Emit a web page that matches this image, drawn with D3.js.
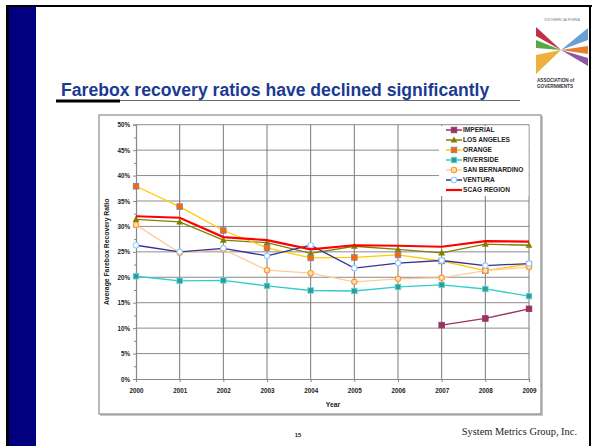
<!DOCTYPE html>
<html>
<head>
<meta charset="utf-8">
<script src="https://cdn.jsdelivr.net/npm/d3@7"></script>
<style>
  body { margin: 0; background: #fff; }
  svg { display: block; font-family: Arial, "Liberation Sans", sans-serif; }
</style>
</head>
<body>
<svg id="slide" width="592" height="446"></svg>
<script>
(() => {
    // Values (percent)
    const years = [2000, 2001, 2002, 2003, 2004, 2005, 2006, 2007, 2008, 2009];
    const imperial = [null, null, null, null, null, null, null, 10.6, 11.9, 13.8];
    const losAngeles = [31.4, 30.9, 27.3, 26.8, 24.7, 26.1, 25.5, 24.8, 26.5, 26.3];
    const orange = [37.9, 33.9, 29.2, 25.8, 23.8, 23.9, 24.4, 23.2, 21.3, 22.6];
    const riverside = [20.2, 19.3, 19.4, 18.3, 17.4, 17.3, 18.1, 18.5, 17.7, 16.3];
    const sanBernardino = [30.3, 24.8, 25.5, 21.4, 20.8, 19.1, 19.7, 19.9, 21.3, 22.0];
    const ventura = [26.3, 25.0, 25.7, 24.2, 26.3, 21.8, 22.8, 23.3, 22.3, 22.7];
    const scagRegion = [32.0, 31.7, 27.9, 27.3, 25.5, 26.3, 26.2, 26.0, 27.1, 27.0];
    const yTicks = [0, 5, 10, 15, 20, 25, 30, 35, 40, 45, 50];

    const series = [
        { name: "IMPERIAL", values: imperial, line: "#993366", marker: "square", fill: "#993366", stroke: "#993366" },
        { name: "LOS ANGELES", values: losAngeles, line: "#808000", marker: "triangle", fill: "#808000", stroke: "#808000" },
        { name: "ORANGE", values: orange, line: "#FFCC00", marker: "square", fill: "#FF6600", stroke: "#8080b0" },
        { name: "RIVERSIDE", values: riverside, line: "#33CCCC", marker: "square", fill: "#339999", stroke: "#66dddd" },
        { name: "SAN BERNARDINO", values: sanBernardino, line: "#FFCC99", marker: "circle", fill: "#FFE0B0", stroke: "#FF9933" },
        { name: "VENTURA", values: ventura, line: "#333399", marker: "circle", fill: "#ffffff", stroke: "#99CCFF" },
        { name: "SCAG REGION", values: scagRegion, line: "#FF0000", marker: null, width: 2.2 }
    ];

    const svg = d3.select("#slide");

    // Slide frame
    svg.append("rect").attr("x", 6).attr("y", 5).attr("width", 586).attr("height", 2).attr("fill", "#000");
    svg.append("rect").attr("x", 6).attr("y", 5).attr("width", 3).attr("height", 441).attr("fill", "#000");
    svg.append("rect").attr("x", 9).attr("y", 7).attr("width", 27).attr("height", 439).attr("fill", "#000080");
    svg.append("rect").attr("x", 589).attr("y", 5).attr("width", 2).attr("height", 441).attr("fill", "#000");

    // Title and rule
    svg.append("text").attr("x", 61).attr("y", 96)
        .attr("font-size", 17.6).attr("font-weight", "bold").attr("fill", "#1b3a93")
        .text("Farebox recovery ratios have declined significantly");
    svg.append("line").attr("x1", 56).attr("x2", 520).attr("y1", 100.5).attr("y2", 100.5)
        .attr("stroke", "#444").attr("stroke-width", 0.8);
    svg.append("rect").attr("x", 56).attr("y", 99.5).attr("width", 64).attr("height", 3).attr("fill", "#000");

    // Logo
    const logo = svg.append("g");
    logo.append("text").attr("x", 562).attr("y", 21).attr("text-anchor", "middle")
        .attr("font-size", 3).attr("fill", "#777").text("SOUTHERN CALIFORNIA");
    const cx = 561, cy = 50;
    const wedges = [
        { pts: [[536, 27], [536, 36], [cx, cy]], c: "#c0304a" },
        { pts: [[536, 40], [536, 48], [cx, cy]], c: "#5aa845" },
        { pts: [[536, 55], [536, 74], [cx, cy]], c: "#f0b040" },
        { pts: [[588, 28], [588, 40], [cx, cy]], c: "#6a9fd4" },
        { pts: [[588, 46], [588, 54], [cx, cy]], c: "#e87d2a" },
        { pts: [[588, 58], [588, 66], [cx, cy]], c: "#8a5aa8" }
    ];
    logo.selectAll("polygon").data(wedges).join("polygon")
        .attr("points", d => d.pts.map(p => p.join(",")).join(" "))
        .attr("fill", d => d.c);
    logo.append("text").attr("x", 537).attr("y", 82).attr("font-size", 4.6).attr("font-weight", "bold")
        .attr("fill", "#333").text("ASSOCIATION of");
    logo.append("text").attr("x", 537).attr("y", 88).attr("font-size", 4.6).attr("font-weight", "bold")
        .attr("fill", "#333").text("GOVERNMENTS");

    // Chart box
    svg.append("rect").attr("x", 100).attr("y", 116).attr("width", 443).attr("height", 300)
        .attr("fill", "#c8c8c8");
    svg.append("rect").attr("x", 99).attr("y", 115).attr("width", 442).attr("height", 299)
        .attr("fill", "#fff").attr("stroke", "#8c8c8c").attr("stroke-width", 1.2);

    const left = 136, right = 529, top = 124.7, bottom = 379;
    const x = d3.scalePoint().domain(years).range([left, right]);
    const y = d3.scaleLinear().domain([0, 50]).range([bottom, top]);

    const chart = svg.append("g");

    // Grid
    chart.append("g").selectAll("line").data(yTicks.slice(1)).join("line")
        .attr("x1", left).attr("x2", right).attr("y1", d => y(d)).attr("y2", d => y(d))
        .attr("stroke", "#8c8c8c").attr("stroke-width", 1);
    chart.append("g").selectAll("line").data(years.slice(1)).join("line")
        .attr("x1", d => x(d)).attr("x2", d => x(d)).attr("y1", top).attr("y2", bottom)
        .attr("stroke", "#7a7a7a").attr("stroke-width", 1);

    // Axes
    const yAxis = d3.axisLeft(y).tickValues(yTicks).tickFormat(d => d + "%").tickSize(3).tickPadding(3);
    const yG = chart.append("g").attr("transform", `translate(${left},0)`).call(yAxis);
    const yMinor = d3.axisLeft(y).tickValues(yTicks.slice(0, -1).map(d => d + 2.5)).tickFormat("").tickSize(2);
    chart.append("g").attr("transform", `translate(${left},0)`).call(yMinor)
        .call(g => g.select(".domain").remove())
        .selectAll("line").attr("stroke", "#888");
    const xAxis = d3.axisBottom(x).tickSize(3).tickPadding(7);
    const xG = chart.append("g").attr("transform", `translate(0,${bottom})`).call(xAxis);
    [yG, xG].forEach(g => {
        g.select(".domain").attr("stroke", "#888").attr("stroke-width", 1.2);
        g.selectAll(".tick line").attr("stroke", "#888");
        g.selectAll("text").attr("font-size", 6.3).attr("font-weight", "bold").attr("fill", "#222")
            .attr("font-family", "Arial, 'Liberation Sans', sans-serif");
    });

    chart.append("text").attr("x", 333).attr("y", 407).attr("text-anchor", "middle")
        .attr("font-size", 6.8).attr("font-weight", "bold").attr("fill", "#222").text("Year");
    chart.append("text").attr("transform", `translate(109,${(top + bottom) / 2}) rotate(-90)`)
        .attr("text-anchor", "middle").attr("font-size", 6.8).attr("font-weight", "bold").attr("fill", "#222")
        .text("Average Farebox Recovery Ratio");

    // Legend background hides grid behind it
    const legend = svg.append("g");
    legend.append("rect").attr("x", 439).attr("y", 126).attr("width", 89.5).attr("height", 70).attr("fill", "#fff");

    // Marker helper
    function drawMarker(g, s, px, py) {
        if (s.marker === "square") {
            g.append("rect").attr("x", px - 2.8).attr("y", py - 2.8).attr("width", 5.6).attr("height", 5.6)
                .attr("fill", s.fill).attr("stroke", s.stroke).attr("stroke-width", 0.8);
        } else if (s.marker === "triangle") {
            g.append("path").attr("d", `M${px},${py - 3.6}L${px + 3.4},${py + 2.6}L${px - 3.4},${py + 2.6}Z`)
                .attr("fill", s.fill);
        } else if (s.marker === "circle") {
            g.append("circle").attr("cx", px).attr("cy", py).attr("r", 2.7)
                .attr("fill", s.fill).attr("stroke", s.stroke).attr("stroke-width", 1.1);
        }
    }

    // Lines and markers
    const line = d3.line().defined(d => d[1] != null).x(d => x(d[0])).y(d => y(d[1]));
    series.forEach(s => {
        const pts = years.map((yr, i) => [yr, s.values[i]]);
        const g = chart.append("g");
        g.append("path").attr("d", line(pts)).attr("fill", "none")
            .attr("stroke", s.line).attr("stroke-width", s.width || 1.3);
        if (s.marker) pts.filter(p => p[1] != null).forEach(p => drawMarker(g, s, x(p[0]), y(p[1])));
    });

    // Legend entries
    series.forEach((s, i) => {
        const ly = 130 + i * 10;
        legend.append("line").attr("x1", 446).attr("x2", 462).attr("y1", ly).attr("y2", ly)
            .attr("stroke", s.line).attr("stroke-width", s.width || 1.5);
        if (s.marker) drawMarker(legend, s, 454, ly);
        legend.append("text").attr("x", 463).attr("y", ly + 2.4).attr("font-size", 6.6)
            .attr("font-weight", "bold").attr("fill", "#222").text(s.name);
    });

    // Footer
    svg.append("text").attr("x", 298).attr("y", 437).attr("text-anchor", "middle")
        .attr("font-size", 6).attr("font-weight", "bold").attr("fill", "#222").text("15");
    svg.append("text").attr("x", 577).attr("y", 435).attr("text-anchor", "end")
        .attr("font-size", 10.4).attr("font-family", "'Liberation Serif', 'DejaVu Serif', serif")
        .attr("fill", "#222").text("System Metrics Group, Inc.");
})();
</script>
</body>
</html>
